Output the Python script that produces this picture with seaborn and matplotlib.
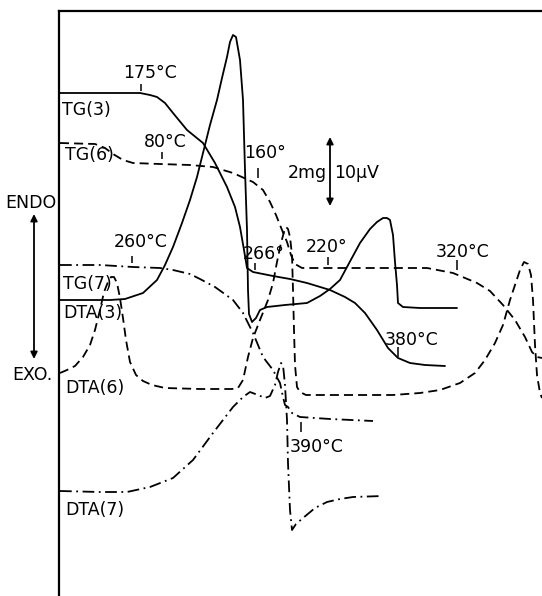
import matplotlib
matplotlib.use("Agg")
import matplotlib.pyplot as plt
import seaborn as sns
import pandas as pd

# curves (horizontal position, vertical position from top)
tg3_x = [60, 100, 140, 150, 157, 165, 173, 187, 203, 215, 227, 235, 240, 244, 247, 253, 263, 273, 290, 307,
         330, 345, 355, 365, 377, 388, 398, 410, 425, 445]
tg3_y = [93, 93, 93, 95, 97, 103, 113, 130, 143, 163, 187, 207, 227, 250, 268, 272, 274, 276, 279, 283,
         290, 297, 303, 313, 330, 348, 358, 363, 365, 366]

dta3_x = [60, 110, 125, 143, 157, 165, 173, 182, 190, 197, 203, 210, 217, 222, 227, 230, 233, 236, 240,
          243, 245, 247, 248, 249, 252, 256, 260, 267, 285, 307, 320, 330, 340, 347, 360, 370, 377, 383,
          387, 390, 393, 395, 397, 398, 403, 420, 457]
dta3_y = [300, 300, 299, 293, 280, 265, 247, 223, 200, 177, 153, 125, 100, 78, 57, 42, 35, 37, 60,
          100, 170, 230, 290, 314, 322, 318, 310, 307, 305, 303, 296, 289, 280, 267, 243, 229, 222, 218,
          218, 220, 235, 262, 285, 303, 307, 308, 308]

tg6_x = [60, 95, 105, 113, 123, 133, 160, 190, 213, 233, 253, 263, 270, 276, 282, 287, 291, 295, 302,
         330, 380, 427, 453, 477, 490, 503, 515, 525, 532, 537, 542]
tg6_y = [143, 144, 148, 154, 160, 163, 164, 165, 167, 173, 182, 190, 202, 215, 230, 242, 255, 264, 268,
         268, 268, 268, 273, 283, 291, 305, 320, 337, 352, 357, 358]

dta6_x = [60, 67, 75, 83, 90, 95, 100, 104, 108, 111, 114, 117, 120, 123, 126, 130, 136, 143, 152, 165,
          200, 232, 238, 243, 248, 253, 260, 268, 273, 277, 281, 284, 286, 288, 290, 292, 293, 294, 295,
          297, 300, 306, 340, 393, 420, 440, 460, 475, 485, 495, 503, 510, 515, 520, 524, 528, 531, 533,
          535, 537, 540, 542]
dta6_y = [373, 370, 366, 357, 345, 330, 310, 292, 282, 277, 277, 283, 298, 318, 340, 362, 375, 381, 385, 388,
          389, 389, 388, 380, 357, 338, 320, 300, 283, 262, 243, 232, 227, 229, 237, 255, 290, 330, 365,
          387, 392, 395, 395, 395, 393, 390, 383, 373, 360, 343, 325, 300, 285, 270, 262, 264, 275, 300,
          345, 375, 393, 398]

tg7_x = [60, 100, 133, 160, 173, 190, 200, 215, 233, 243, 253, 263, 273, 280, 283, 285, 288, 292, 300,
         330, 373]
tg7_y = [265, 265, 267, 268, 270, 274, 279, 287, 300, 313, 333, 357, 370, 383, 397, 405, 407, 413, 417,
         419, 421]

dta7_x = [60, 100, 127, 150, 173, 193, 213, 233, 243, 250, 258, 265, 270, 275, 278, 281, 283, 285, 287,
          288, 290, 292, 296, 303, 315, 327, 340, 353, 383]
dta7_y = [491, 492, 492, 487, 478, 460, 433, 407, 397, 392, 395, 398, 396, 385, 372, 363, 365, 385, 420,
          463, 510, 530, 524, 518, 508, 502, 499, 497, 496]

curve_names = ["TG(3)", "DTA(3)", "TG(6)", "DTA(6)", "TG(7)", "DTA(7)"]
curve_x = [tg3_x, dta3_x, tg6_x, dta6_x, tg7_x, dta7_x]
curve_y = [tg3_y, dta3_y, tg6_y, dta6_y, tg7_y, dta7_y]

# text labels and their small marker ticks
temp_labels = ["175°C", "80°C", "160°", "260°C", "266°", "220°", "320°C", "380°C", "390°C"]
temp_label_x = [150, 165, 265, 141, 264, 327, 463, 412, 317]
temp_label_y = [78, 147, 158, 247, 259, 252, 257, 345, 452]
tick_x = [141, 162, 258, 132, 255, 328, 457, 398, 301]
tick_top = [84, 152, 168, 256, 263, 257, 260, 347, 422]
tick_bottom = [91, 159, 178, 263, 270, 265, 270, 357, 432]

name_label_x = [62, 63, 65, 65, 63, 65]
name_label_y = [115, 318, 160, 393, 289, 515]

rows = []
for name, xs, ys in zip(curve_names, curve_x, curve_y):
    for i, (xv, yv) in enumerate(zip(xs, ys)):
        rows.append({"curve": name, "order": i, "x": xv, "y": yv})
df = pd.DataFrame(rows)

sns.set_style("white")
plt.rcParams["font.family"] = ["DejaVu Sans"]
plt.rcParams["text.color"] = "black"

fig = plt.figure(figsize=(5.42, 5.96), dpi=100)
ax = fig.add_axes([59 / 542, 0, 483 / 542, 585 / 596])

dash_map = {
    "TG(3)": "", "DTA(3)": "",
    "TG(6)": (5, 2.8), "DTA(6)": (5, 2.8),
    "TG(7)": (6.5, 2.5, 1, 2.5), "DTA(7)": (6.5, 2.5, 1, 2.5),
}
sns.lineplot(data=df, x="x", y="y", hue="curve", style="curve",
             palette={n: "black" for n in curve_names}, dashes=dash_map,
             sort=False, estimator=None, legend=False, linewidth=1.3, ax=ax)

ax.set_xlim(59, 542)
ax.set_ylim(596, 11)
ax.set_xticks([])
ax.set_yticks([])
ax.set_xlabel("")
ax.set_ylabel("")
for side in ["right", "bottom"]:
    ax.spines[side].set_visible(False)
for side in ["left", "top"]:
    ax.spines[side].set_linewidth(1.6)
    ax.spines[side].set_color("black")

fs = 12.5
for t, xv, yv in zip(temp_labels, temp_label_x, temp_label_y):
    ax.text(xv, yv, t, ha="center", va="baseline", fontsize=fs, color="black")
ax.vlines(tick_x, tick_top, tick_bottom, color="black", linewidth=1.1)

for t, xv, yv in zip(curve_names, name_label_x, name_label_y):
    ax.text(xv, yv, t, ha="left", va="baseline", fontsize=fs, color="black")

# scale bar
ax.annotate("", xy=(330, 137), xytext=(330, 206),
            arrowprops=dict(arrowstyle="<|-|>", color="black", lw=1.3,
                            mutation_scale=10, shrinkA=0, shrinkB=0))
ax.text(327, 178, "2mg", ha="right", va="baseline", fontsize=fs, color="black")
ax.text(334, 178, "10μV", ha="left", va="baseline", fontsize=fs, color="black")

# ENDO / EXO arrow outside the frame
ax.annotate("", xy=(34, 214), xytext=(34, 359), annotation_clip=False,
            arrowprops=dict(arrowstyle="<|-|>", color="black", lw=1.3,
                            mutation_scale=10, shrinkA=0, shrinkB=0))
ax.text(31, 208, "ENDO", ha="center", va="baseline", fontsize=fs, color="black", clip_on=False)
ax.text(32, 380, "EXO.", ha="center", va="baseline", fontsize=fs, color="black", clip_on=False)

fig.savefig("out.png", dpi=100)
